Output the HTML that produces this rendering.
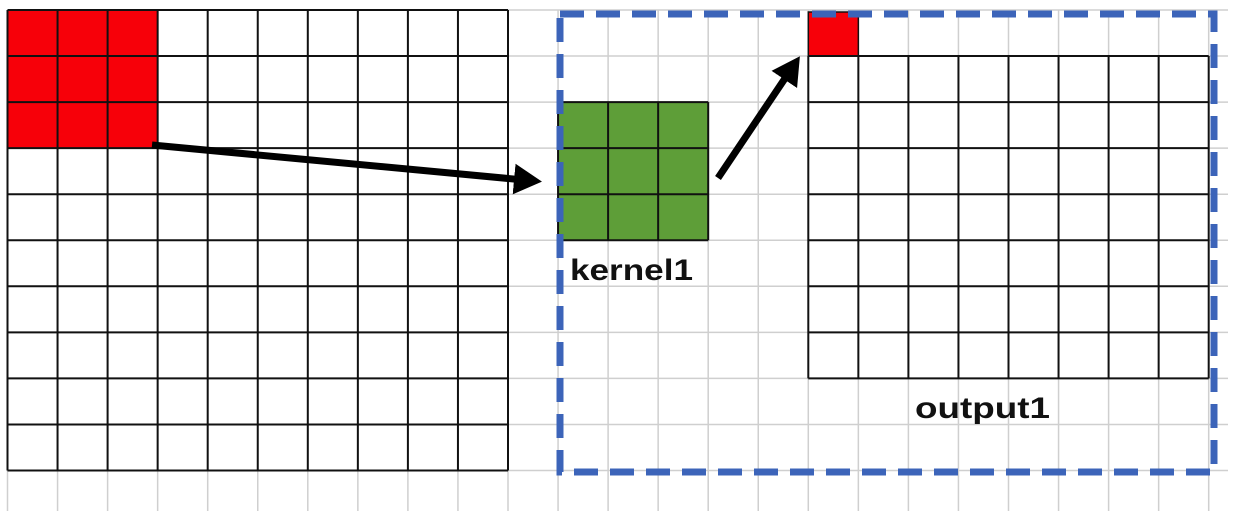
<!DOCTYPE html>
<html><head><meta charset="utf-8"><style>html,body{margin:0;padding:0;background:#fff;}svg{display:block;}</style></head>
<body>
<svg id="s" width="1236" height="532" xmlns="http://www.w3.org/2000/svg">
<defs><marker id="ah" markerWidth="5" markerHeight="5" refX="3" refY="2.2" orient="auto" markerUnits="strokeWidth"><path d="M0,0 L4,2.2 L0,4.4 z" fill="#000"/></marker></defs>
</svg>
<script>
const NS='http://www.w3.org/2000/svg';
const s=document.getElementById('s');
const X0=7.5, DX=50.05, Y0=10, DY=46.05;
const gx=i=>X0+i*DX, gy=j=>Y0+j*DY;
function el(t,a,name){const e=document.createElementNS(NS,t);for(const k in a)e.setAttribute(k,a[k]);


s.appendChild(e);return e;}
for(let i=0;i<=24;i++) el('line',{x1:gx(i),y1:Y0,x2:gx(i),y2:511,stroke:'#cfcfcf','stroke-width':1.5},'bg-grid-vline');
for(let j=0;j<=10;j++) el('line',{x1:X0,y1:gy(j),x2:1228,y2:gy(j),stroke:'#cfcfcf','stroke-width':1.5},'bg-grid-hline');
for(let i=0;i<3;i++)for(let j=0;j<3;j++) el('rect',{x:gx(i),y:gy(j),width:DX,height:DY,fill:'#f70009'},'input-red-cell');
for(let i=0;i<3;i++)for(let j=0;j<3;j++) el('rect',{x:gx(11+i),y:gy(2+j),width:DX,height:DY,fill:'#5e9e38'},'kernel-cell');
el('rect',{x:gx(16),y:gy(0)+2,width:DX,height:DY-2,fill:'#f70009',stroke:'#111','stroke-width':1.5},'output-red-cell');
function grid(c0,r0,nc,nr,name){for(let i=0;i<=nc;i++) el('line',{x1:gx(c0+i),y1:gy(r0),x2:gx(c0+i),y2:gy(r0+nr),stroke:'#111','stroke-width':2},name+'-vline');
for(let j=0;j<=nr;j++) el('line',{x1:gx(c0),y1:gy(r0+j),x2:gx(c0+nc),y2:gy(r0+j),stroke:'#111','stroke-width':2},name+'-hline');}
grid(0,0,10,10,'input-grid');
grid(11,2,3,3,'kernel-grid');
grid(16,1,8,7,'output-grid');
el('rect',{x:560,y:14,width:654,height:458,fill:'none',stroke:'#3c64b9','stroke-width':7,'stroke-dasharray':'24 12'},'dashed-box');
el('line',{x1:152,y1:145,x2:535,y2:181,stroke:'#000','stroke-width':7,'marker-end':'url(#ah)'},'arrow-input-to-kernel');
el('line',{x1:718,y1:178,x2:796,y2:62,stroke:'#000','stroke-width':7,'marker-end':'url(#ah)'},'arrow-kernel-to-output');
const t1=el('text',{x:570,y:280,'font-family':'Liberation Sans, sans-serif','font-size':30,'font-weight':'bold',fill:'#111',textLength:123,lengthAdjust:'spacingAndGlyphs'},'kernel-label');t1.textContent='kernel1';
const t2=el('text',{x:915,y:418,'font-family':'Liberation Sans, sans-serif','font-size':30,'font-weight':'bold',fill:'#111',textLength:135,lengthAdjust:'spacingAndGlyphs'},'output-label');t2.textContent='output1';
</script>
</body></html>
